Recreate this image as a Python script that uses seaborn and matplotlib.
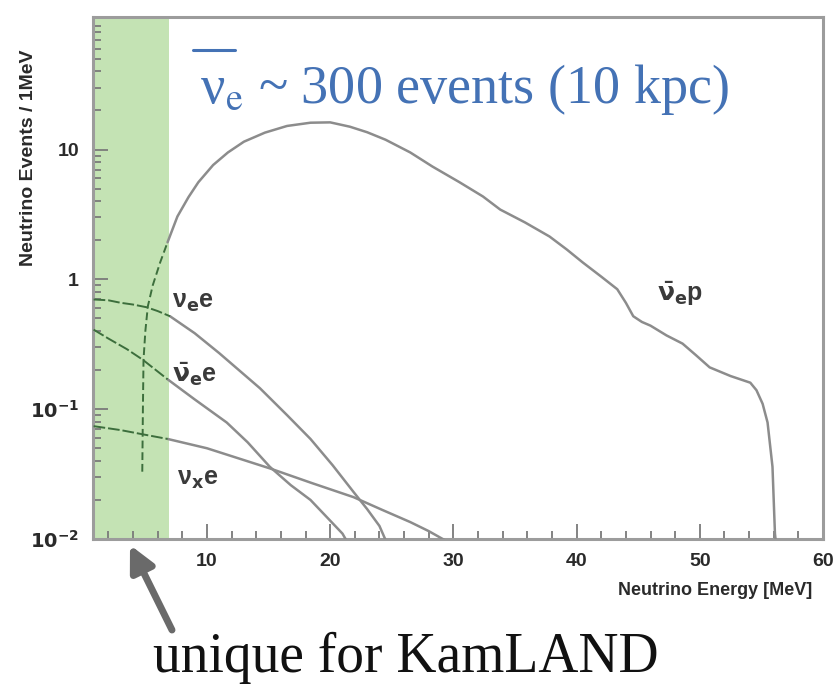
import numpy as np
import pandas as pd
import matplotlib
matplotlib.use("Agg")
import matplotlib.pyplot as plt
import seaborn as sns
from matplotlib.lines import Line2D

# ---------------- data ----------------
nuebar_p_x = [4.75, 4.8, 4.85, 5.0, 5.2, 5.6, 6.2, 6.8, 7.6, 8.5, 9.3, 10.5, 11.7, 13.0,
              14.7, 16.5, 18.4, 20.0, 21.6, 23.0, 24.5, 26.5, 28.3, 30.5, 32.4, 33.8,
              35.8, 37.8, 39.2, 40.5, 42.0, 43.3, 44.0, 44.6, 45.3, 46.0, 47.3, 48.6,
              49.7, 50.8, 52.5, 54.1, 54.6, 55.1, 55.5, 55.9, 56.1, 56.2]
nuebar_p_y = [0.033, 0.1, 0.24, 0.4, 0.62, 0.9, 1.35, 1.93, 3.05, 4.3, 5.6, 7.6, 9.5, 11.5,
              13.5, 15.2, 16.1, 16.2, 15.0, 13.6, 11.9, 9.5, 7.4, 5.6, 4.35, 3.45,
              2.75, 2.14, 1.7, 1.35, 1.05, 0.84, 0.66, 0.52, 0.47, 0.44, 0.37, 0.32,
              0.26, 0.21, 0.18, 0.16, 0.14, 0.11, 0.079, 0.036, 0.011, 0.009]

nue_e_x = [0.8, 2, 3, 4, 5.1, 6, 7.0, 9, 11, 14.3, 16.5, 18.4, 20.2, 21.9, 23, 24.0, 24.5]
nue_e_y = [0.70, 0.69, 0.66, 0.64, 0.61, 0.57, 0.52, 0.385, 0.27, 0.145, 0.09, 0.059,
           0.037, 0.023, 0.017, 0.0126, 0.0098]

nuebar_e_x = [0.8, 2, 3.5, 4.8, 6.8, 9, 11.6, 13.3, 15.1, 16.8, 18.4, 19.8, 21.0, 21.3]
nuebar_e_y = [0.41, 0.35, 0.29, 0.24, 0.17, 0.119, 0.079, 0.0556, 0.036, 0.026, 0.020,
              0.0145, 0.011, 0.0098]

nux_e_x = [0.8, 3, 4.8, 6.8, 10, 15.1, 18.5, 21.9, 24.2, 26.5, 28.0, 29.3]
nux_e_y = [0.074, 0.069, 0.064, 0.059, 0.05, 0.035, 0.027, 0.021, 0.0168, 0.0135,
           0.0115, 0.0098]

band_range = [0.75, 6.9]
x_ticks = [10, 20, 30, 40, 50, 60]
y_ticks = [0.01, 0.1, 1, 10]
y_tick_labels = [r"$\mathbf{10^{-2}}$", r"$\mathbf{10^{-1}}$", "1", "10"]

# ---------------- figure ----------------
sns.set_theme(style="white")
plt.rcParams["font.family"] = ["Liberation Sans", "DejaVu Sans"]
plt.rcParams["mathtext.fontset"] = "dejavusans"

W, H = 837, 687
fig = plt.figure(figsize=(W / 100, H / 100), dpi=100)
fig.patch.set_facecolor("white")
ax = fig.add_axes([93 / W, 1 - 539 / H, (823 - 93) / W, (539 - 17) / H])
ax.set_facecolor("white")

ax.set_yscale("log")
ax.set_xlim(0.75, 60)
ax.set_ylim(0.01, 105)

ax.axvspan(band_range[0], band_range[1], color="#c4e3b4", zorder=0, lw=0)

line_grey = "#8c8c8c"
in_band = "#3c6e3c"


def draw(xs, ys, dashed_inside=False):
    df = pd.DataFrame({"x": xs, "y": ys})
    cut = band_range[1]
    outside = df[df.x >= cut - 0.3]
    inside = df[df.x <= cut + 0.3]
    sns.lineplot(data=outside, x="x", y="y", ax=ax, color=line_grey, lw=1.8,
                 sort=False, estimator=None, zorder=3)
    sns.lineplot(data=inside, x="x", y="y", ax=ax, color=in_band, lw=1.4,
                 sort=False, estimator=None, zorder=3,
                 linestyle=(0, (4, 2)) if dashed_inside else (0, (6, 1.5)))


draw(nuebar_p_x, nuebar_p_y, dashed_inside=True)
draw(nue_e_x, nue_e_y)
draw(nuebar_e_x, nuebar_e_y)
draw(nux_e_x, nux_e_y)

# axes styling
for s in ax.spines.values():
    s.set_color("#9c9c9c")
    s.set_linewidth(2.2)
ax.xaxis.set_major_locator(matplotlib.ticker.FixedLocator(x_ticks))
ax.xaxis.set_minor_locator(matplotlib.ticker.MultipleLocator(2))
ax.yaxis.set_major_locator(matplotlib.ticker.FixedLocator(y_ticks))
ax.yaxis.set_major_formatter(matplotlib.ticker.FixedFormatter(y_tick_labels))
ax.yaxis.set_minor_locator(matplotlib.ticker.LogLocator(base=10, subs=np.arange(2, 10)))
ax.yaxis.set_minor_formatter(matplotlib.ticker.NullFormatter())
ax.tick_params(which="both", direction="in", color="#7a7a7a", width=1.3,
               bottom=True, left=True, top=False, right=False)
ax.tick_params(which="major", length=11, labelsize=14, labelcolor="#2a2a2a", pad=10)
ax.tick_params(which="minor", length=5.5)
for lab in ax.get_xticklabels() + ax.get_yticklabels():
    lab.set_fontweight("bold")

ax.set_xlabel("Neutrino Energy [MeV]", fontsize=13, fontweight="bold", color="#2a2a2a")
ax.xaxis.label.set_ha("right")
ax.xaxis.set_label_coords((812 - 93) / 730, (539 - 582) / 522)
ax.set_ylabel("Neutrino Events / 1MeV", fontsize=14, fontweight="bold", color="#2a2a2a")
ax.yaxis.set_label_coords((37 - 93) / 730, (539 - 158) / 522)

# curve labels
lab_kw = dict(fontsize=18, fontweight="bold", color="#3a3a3a", va="center",
              ha="left", zorder=5)
ax.text(7.2, 0.67, r"ν$_\mathbf{e}$e", **lab_kw)
ax.text(7.2, 0.186, r"$\mathbf{\bar{\nu}}_\mathbf{e}$e", **lab_kw)
ax.text(7.6, 0.029, r"ν$_\mathbf{x}$e", **lab_kw)
ax.text(46.5, 0.77, r"$\mathbf{\bar{\nu}}_\mathbf{e}$p", **lab_kw)

# title inside plot
title_color = "#4472b5"
fig.text(200 / W, 1 - 103 / H, r"ν$_{\mathrm{e}}$ ~ 300 events (10 kpc)",
         fontsize=39, family="Liberation Serif", math_fontfamily="stix",
         color=title_color, va="baseline", ha="left")
fig.add_artist(Line2D([193 / W, 235 / W], [1 - 50 / H, 1 - 50 / H],
                      transform=fig.transFigure, color=title_color, lw=2.2))

# arrow + caption
ax.annotate("", xy=(130, H - 545), xycoords="figure pixels",
            xytext=(172, H - 630), textcoords="figure pixels",
            arrowprops=dict(arrowstyle="-|>", mutation_scale=38, lw=5,
                            color="#6a6a6a", shrinkA=0, shrinkB=0),
            annotation_clip=False)
fig.text(153 / W, 1 - 672 / H, "unique for KamLAND", fontsize=40,
         family="Liberation Serif", color="#111111", va="baseline", ha="left")

fig.savefig("out.png", dpi=100, facecolor="white")
